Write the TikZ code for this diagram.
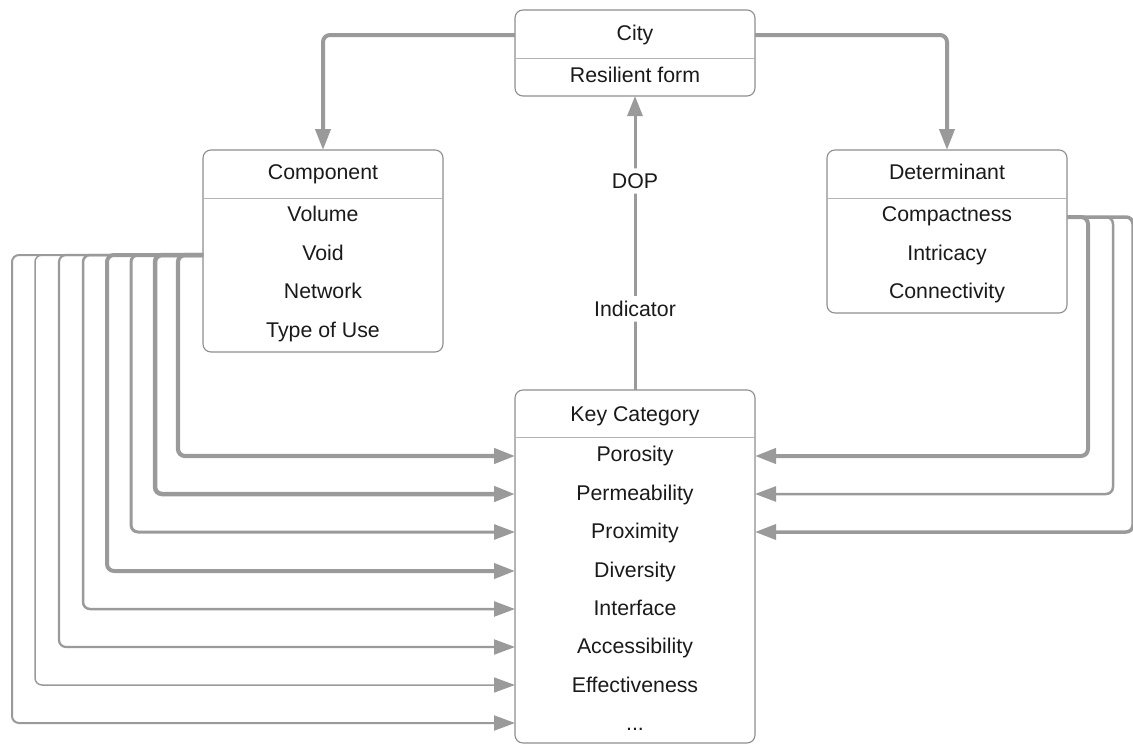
\documentclass[tikz,border=0pt]{standalone}
\usepackage{fontspec}
\setmainfont{Liberation Sans}
\usetikzlibrary{arrows.meta}
\definecolor{linkgray}{HTML}{9A9A9A}
\definecolor{boxgray}{HTML}{8E8E8E}
\definecolor{rulegray}{HTML}{B4B4B4}
\definecolor{ink}{HTML}{1A1A1A}
\tikzset{
  box/.style={draw=boxgray, line width=1.1pt, rounded corners=8pt, fill=white,
    minimum width=240pt, inner sep=0pt, outer sep=0pt},
  txt/.style={text=ink, font=\fontsize{21.3}{25}\selectfont, inner sep=0pt, anchor=base},
  rulel/.style={draw=rulegray, line width=1pt},
  conn/.style={draw=linkgray, rounded corners=7pt,
    -{Triangle[length=21pt,width=15pt]}, color=linkgray},
  lbl/.style={text=ink, font=\fontsize{21.3}{25}\selectfont, fill=white, inner sep=5pt}
}
\begin{document}
\begin{tikzpicture}[x=1pt,y=-1pt]
\useasboundingbox (0,0) rectangle (1133,745);

% boxes
\node[box, minimum height=86pt]  (city) at (635,53)   {};
\node[box, minimum height=202pt] (comp) at (323,251)  {};
\node[box, minimum height=163pt] (det)  at (947,231.5) {};
\node[box, minimum height=353pt] (kc)   at (635,566.5) {};

% header dividers
\draw[rulel] (city.west |- 0,58)  -- (city.east |- 0,58);
\draw[rulel] (comp.west |- 0,198) -- (comp.east |- 0,198);
\draw[rulel] (det.west |- 0,198)  -- (det.east |- 0,198);
\draw[rulel] (kc.west |- 0,437)   -- (kc.east |- 0,437);

% texts (placed on their baselines)
\node[txt] (cityh) at (635,40.5) {City};
\node[txt] (res)   at (635,82.5) {Resilient form};

\node[txt] (comph) at (323,179.5) {Component};
\node[txt] (vol)   at (323,221.5) {Volume};
\node[txt] (void)  at (323,260.5) {Void};
\node[txt] (net)   at (323,298.5) {Network};
\node[txt] (use)   at (323,337.5) {Type of Use};

\node[txt] (deth)  at (947,179.5) {Determinant};
\node[txt] (cmp)   at (947,221.5) {Compactness};
\node[txt] (intr)  at (947,260.5) {Intricacy};
\node[txt] (cnx)   at (947,298.5) {Connectivity};

\node[txt] (kch)   at (635,421.5) {Key Category};
\node[txt] (por)   at (635,461.5) {Porosity};
\node[txt] (perm)  at (635,500.5) {Permeability};
\node[txt] (prox)  at (635,538.5) {Proximity};
\node[txt] (div)   at (635,577.5) {Diversity};
\node[txt] (intf)  at (635,615.5) {Interface};
\node[txt] (acc)   at (635,653.5) {Accessibility};
\node[txt] (eff)   at (635,692.5) {Effectiveness};
\node[txt] (more)  at (635,730) {...};

% connector rows
\coordinate (yc)   at (0,35);
\coordinate (ycv)  at (0,255);
\coordinate (ydc)  at (0,217);
\coordinate (ypor) at (0,456);
\coordinate (yperm) at (0,494);
\coordinate (yprox) at (0,532);
\coordinate (ydiv) at (0,571);
\coordinate (yint) at (0,609);
\coordinate (yacc) at (0,647);
\coordinate (yeff) at (0,685);
\coordinate (ymore) at (0,723);

% city to component / determinant
\draw[conn, line width=4pt] (city.west |- yc) -| (comp.north);
\draw[conn, line width=4pt] (city.east |- yc) -| (det.north);

% key category up to city
\draw[conn, line width=3pt, -{Triangle[length=20pt,width=15pt]}] (kc.north) -- (city.south)
  node[lbl, pos=0.276] (ind) {Indicator}
  node[lbl, pos=0.711] (dop) {DOP};

% lanes of the left bundle
\coordinate (cv) at (comp.west |- ycv);
\coordinate (L1) at (178,0);
\coordinate (L2) at (155,0);
\coordinate (L3) at (131,0);
\coordinate (L4) at (107,0);
\coordinate (L5) at (83,0);
\coordinate (L6) at (59,0);
\coordinate (L7) at (35,0);
\coordinate (L8) at (12,0);

\draw[conn, line width=2pt]   (cv) -| (L8 |- ymore) -- (kc.west |- ymore);
\draw[conn, line width=1.5pt] (cv) -| (L7 |- yeff)  -- (kc.west |- yeff);
\draw[conn, line width=2.2pt] (cv) -| (L6 |- yacc)  -- (kc.west |- yacc);
\draw[conn, line width=2.5pt] (cv) -| (L5 |- yint)  -- (kc.west |- yint);
\draw[conn, line width=4pt]   (cv) -| (L4 |- ydiv)  -- (kc.west |- ydiv);
\draw[conn, line width=3pt]   (cv) -| (L3 |- yprox) -- (kc.west |- yprox);
\draw[conn, line width=4.5pt] (cv) -| (L2 |- yperm) -- (kc.west |- yperm);
\draw[conn, line width=4.2pt] (cv) -| (L1 |- ypor)  -- (kc.west |- ypor);

% lanes of the right bundle
\coordinate (dc) at (det.east |- ydc);
\coordinate (R1) at (1088,0);
\coordinate (R2) at (1113,0);
\coordinate (R3) at (1133,0);

\draw[conn, line width=3.5pt] (dc) -| (R3 |- yprox) -- (kc.east |- yprox);
\draw[conn, line width=2.5pt] (dc) -| (R2 |- yperm) -- (kc.east |- yperm);
\draw[conn, line width=4pt]   (dc) -| (R1 |- ypor)  -- (kc.east |- ypor);
\end{tikzpicture}
\end{document}
